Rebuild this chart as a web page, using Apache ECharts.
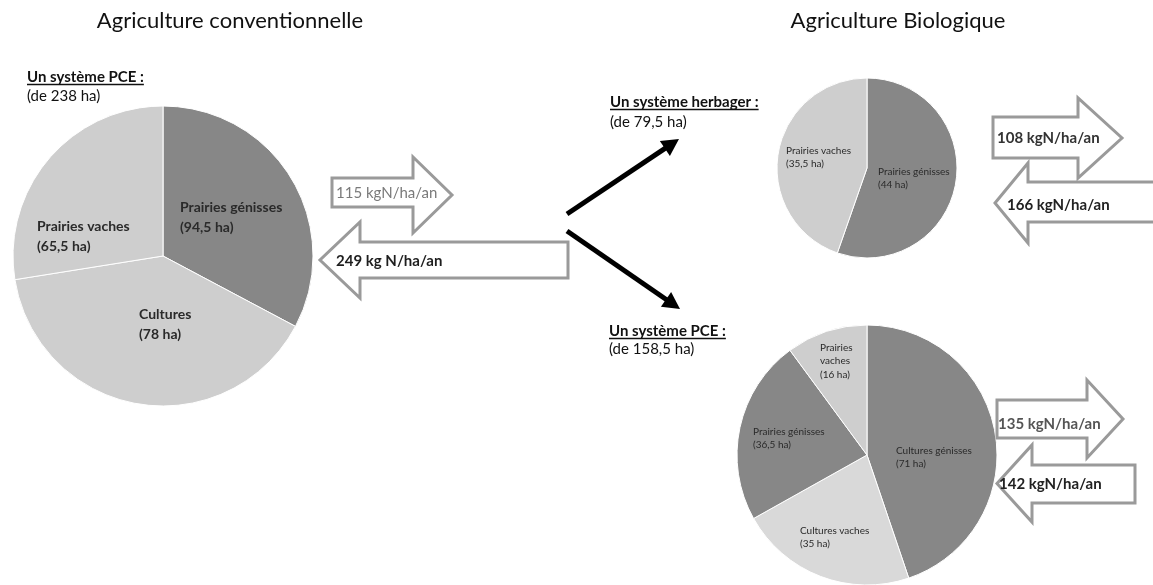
<!DOCTYPE html>
<html>
<head>
<meta charset="utf-8">
<script src="https://cdn.jsdelivr.net/npm/echarts@6/dist/echarts.min.js"></script>
<style>
html,body{margin:0;padding:0;background:#fff;}
#chart{width:1153px;height:585px;}
</style>
</head>
<body>
<div id="chart"></div>
<script>
// ---------------- DATA ----------------
// Conventional PCE system (238 ha)
var convNames  = ['Prairies génisses', 'Cultures', 'Prairies vaches'];
var convArea   = ['94,5 ha', '78 ha', '65,5 ha'];          // label text
var convSlices = [78, 94.5, 65.5];                          // slice sizes as drawn
// Organic grass system (79,5 ha)
var herbNames  = ['Prairies génisses', 'Prairies vaches'];
var herbArea   = ['44 ha', '35,5 ha'];
var herbSlices = [44, 35.5];
// Organic PCE system (158,5 ha)
var bioNames   = ['Cultures génisses', 'Cultures vaches', 'Prairies génisses', 'Prairies vaches'];
var bioArea    = ['71 ha', '35 ha', '36,5 ha', '16 ha'];
var bioSlices  = [71, 35, 36.5, 16];
// Nitrogen flows (kgN/ha/an)
var flowTexts  = ['115 kgN/ha/an', '249 kg N/ha/an', '108 kgN/ha/an', '166 kgN/ha/an', '135 kgN/ha/an', '142 kgN/ha/an'];
var titles     = ['Agriculture conventionnelle', 'Agriculture Biologique'];
var systems    = ['Un système PCE :', '(de 238 ha)', 'Un système herbager :', '(de 79,5 ha)', 'Un système PCE :', '(de 158,5 ha)'];

// ---------------- STYLE / LAYOUT ----------------
var FONT = 'Lato, "Open Sans", sans-serif';
var DARK = '#878787', LIGHT = '#cecece', LIGHT2 = '#d9d9d9';

function pieData(names, vals, cols) {
  return names.map(function (n, i) { return { name: n, value: vals[i], itemStyle: { color: cols[i] } }; });
}

// label anchor positions (left/top of text block)
var labelPos = [
  [[180, 197], [139, 304], [37, 216]],
  [[878, 165], [786, 144]],
  [[896, 444], [800, 524], [753, 425], [820, 341]]
];
var labelLines = [
  convNames.map(function (n, i) { return n + '\n(' + convArea[i] + ')'; }),
  herbNames.map(function (n, i) { return n + '\n(' + herbArea[i] + ')'; }),
  bioNames.map(function (n, i) { return (i === 3 ? n.replace(' ', '\n') : n) + '\n(' + bioArea[i] + ')'; })
];

function mkPie(center, r, data, si, fs, lh, bold, col) {
  return {
    type: 'pie', center: center, radius: [0, r], startAngle: 90, clockwise: true,
    silent: true, animation: false,
    itemStyle: { borderColor: '#ffffff', borderWidth: 1 },
    data: data,
    label: {
      show: true, position: 'inside', fontFamily: FONT, fontSize: fs, lineHeight: lh,
      fontWeight: bold ? 'bold' : 'normal', color: col, align: 'left',
      formatter: function (p) { return labelLines[si][p.dataIndex]; }
    },
    labelLine: { show: false },
    labelLayout: function (p) {
      var pos = labelPos[si][p.dataIndex];
      return { x: pos[0], y: pos[1], align: 'left', verticalAlign: 'top' };
    }
  };
}

// block arrows
function rightArrow(x0, t, b, xh, ht, hb, xt) {
  var yt = (ht + hb) / 2;
  return [[x0, t], [xh, t], [xh, ht], [xt, yt], [xh, hb], [xh, b], [x0, b]];
}
function leftArrow(x1, t, b, xh, ht, hb, xt) {
  var yt = (ht + hb) / 2;
  return [[x1, t], [xh, t], [xh, ht], [xt, yt], [xh, hb], [xh, b], [x1, b]];
}
var arrows = [
  { pts: rightArrow(332, 178, 207, 413, 157, 233, 452), tx: 336, ty: 193, c: '#7a7a7a', w: 'normal' },
  { pts: leftArrow(568, 242, 278, 360, 222, 298, 320), tx: 336, ty: 261, c: '#1e1e1e', w: 'bold' },
  { pts: rightArrow(993, 117, 158, 1078, 98, 178, 1122), tx: 997, ty: 138, c: '#333333', w: 'bold' },
  { pts: leftArrow(1165, 182, 222, 1028, 163, 243, 995), tx: 1007, ty: 205, c: '#222222', w: 'bold' },
  { pts: rightArrow(997, 400, 438, 1087, 380, 458, 1123), tx: 998, ty: 424, c: '#555555', w: 'bold' },
  { pts: leftArrow(1135, 465, 503, 1032, 445, 522, 997), tx: 999, ty: 484, c: '#222222', w: 'bold' }
];

var graphics = [];
arrows.forEach(function (a, i) {
  graphics.push({ type: 'polygon', z: 10, shape: { points: a.pts },
    style: { fill: '#ffffff', stroke: '#9a9a9a', lineWidth: 3, lineJoin: 'miter' } });
  graphics.push({ type: 'text', z: 11, x: a.tx, y: a.ty,
    style: { text: flowTexts[i], font: a.w + ' 15px ' + FONT, fill: a.c, textVerticalAlign: 'middle', verticalAlign: 'middle' } });
});

// black split arrows
function blackArrow(x0, y0, x1, y1) {
  var dx = x1 - x0, dy = y1 - y0, L = Math.sqrt(dx * dx + dy * dy);
  var ux = dx / L, uy = dy / L, hl = 17, hw = 9;
  var bx = x1 - ux * hl, by = y1 - uy * hl;
  graphics.push({ type: 'line', z: 10, shape: { x1: x0, y1: y0, x2: bx + ux * 2, y2: by + uy * 2 },
    style: { stroke: '#000', lineWidth: 5 } });
  graphics.push({ type: 'polygon', z: 10, shape: { points: [[x1, y1], [bx - uy * hw, by + ux * hw], [bx + uy * hw, by - ux * hw]] },
    style: { fill: '#000' } });
}
blackArrow(567, 214, 679, 139);
blackArrow(567, 231, 680, 309);

// titles
graphics.push({ type: 'text', x: 230, y: 21, style: { text: titles[0], font: '22px ' + FONT, fill: '#111', align: 'center', textAlign: 'center', verticalAlign: 'middle', textVerticalAlign: 'middle' } });
graphics.push({ type: 'text', x: 898, y: 21, style: { text: titles[1], font: '22px ' + FONT, fill: '#111', align: 'center', textAlign: 'center', verticalAlign: 'middle', textVerticalAlign: 'middle' } });

// system headings (bold underlined + normal line)
var measureCtx = document.createElement('canvas').getContext('2d');
function heading(x, y, gap, t1, t2) {
  var f1 = 'bold 15px ' + FONT;
  measureCtx.font = f1;
  var w = measureCtx.measureText(t1).width;
  graphics.push({ type: 'text', x: x, y: y, style: { text: t1, font: f1, fill: '#111', verticalAlign: 'middle', textVerticalAlign: 'middle' } });
  graphics.push({ type: 'line', shape: { x1: x, y1: y + 7.5, x2: x + w, y2: y + 7.5 }, style: { stroke: '#111', lineWidth: 1.5 } });
  graphics.push({ type: 'text', x: x, y: y + gap, style: { text: t2, font: '15px ' + FONT, fill: '#111', verticalAlign: 'middle', textVerticalAlign: 'middle' } });
}
heading(27, 77, 19, systems[0], systems[1]);
heading(610, 102, 20, systems[2], systems[3]);
heading(609, 331, 18, systems[4], systems[5]);

var chart = echarts.init(document.getElementById('chart'), null, { renderer: 'canvas' });
chart.setOption({
  backgroundColor: '#ffffff',
  animation: false,
  series: [
    mkPie([163, 256], 150, pieData(convNames, convSlices, [DARK, LIGHT, LIGHT]), 0, 14, 20, true, '#2a2a2a'),
    mkPie([867, 168], 90, pieData(herbNames, herbSlices, [DARK, LIGHT]), 1, 10, 13, false, '#2a2a2a'),
    mkPie([867, 455], 130, pieData(bioNames, bioSlices, [DARK, LIGHT2, DARK, LIGHT]), 2, 10, 13.5, false, '#2a2a2a')
  ],
  graphic: graphics
});
</script>
</body>
</html>
